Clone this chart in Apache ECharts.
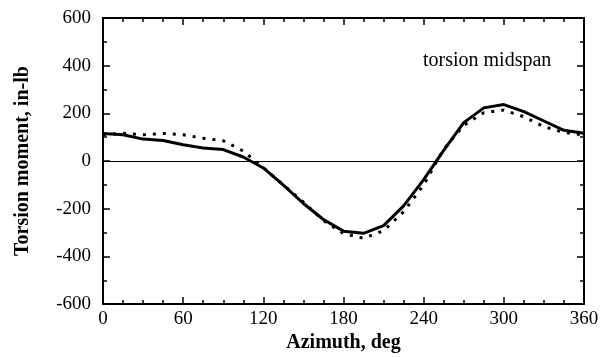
<!DOCTYPE html>
<html>
<head>
<meta charset="utf-8">
<script src="https://cdn.jsdelivr.net/npm/echarts@6/dist/echarts.min.js"></script>
<style>html,body{margin:0;padding:0;background:#fff;}#c{width:602px;height:358px;}</style>
</head>
<body>
<div id="c"></div>
<script>
var azimuth = [0,15,30,45,60,75,90,105,120,135,150,165,180,195,210,225,240,255,270,285,300,315,330,345,360];
var solidValues = [116,110,92,86,68,55,48,17,-29,-101,-178,-245,-294,-303,-271,-188,-78,45,161,223,237,207,168,129,117];
var dottedValues = [110,117,110,116,110,96,85,42,-28,-100,-172,-250,-304,-324,-292,-213,-100,50,150,203,214,186,144,120,109];
var xTicks = [0,60,120,180,240,300,360];
var yTicks = [-600,-400,-200,0,200,400,600];
var annotation = 'torsion midspan';
var xTitle = 'Azimuth, deg';
var yTitle = 'Torsion moment, in-lb';

function pairs(xs, ys){ return xs.map(function(x,i){ return [x, ys[i]]; }); }

var font = 'Liberation Serif';
var chart = echarts.init(document.getElementById('c'), null, {renderer:'canvas'});
var axisLine = {show:true, onZero:false, lineStyle:{color:'#000', width:2}};
var tickStyle = {color:'#000', width:1.5};
chart.setOption({
  animation:false,
  backgroundColor:'#fff',
  title:{text:annotation, left:418, top:46, textStyle:{fontFamily:font, fontWeight:'normal', fontSize:20, color:'#000'}},
  grid:{left:103, right:18, top:18, bottom:49, containLabel:false},
  xAxis:[
    {type:'value', min:xTicks[0], max:xTicks[xTicks.length-1], interval:60, position:'bottom',
     name:xTitle, nameLocation:'middle', nameGap:24,
     nameTextStyle:{fontFamily:font, fontWeight:'bold', fontSize:20, color:'#000'},
     axisLine:axisLine, axisTick:{inside:true, length:7, lineStyle:tickStyle},
     minorTick:{show:true, splitNumber:4, length:4, lineStyle:tickStyle},
     axisLabel:{margin:5, fontFamily:font, fontSize:19, color:'#000'},
     splitLine:{show:false}},
    {type:'value', min:xTicks[0], max:xTicks[xTicks.length-1], interval:60, position:'top',
     axisLine:axisLine, axisTick:{inside:true, length:7, lineStyle:tickStyle},
     minorTick:{show:true, splitNumber:4, length:4, lineStyle:tickStyle},
     axisLabel:{show:false}, splitLine:{show:false}}
  ],
  yAxis:[
    {type:'value', min:yTicks[0], max:yTicks[yTicks.length-1], interval:200, position:'left',
     name:yTitle, nameLocation:'middle', nameGap:70, nameRotate:90,
     nameTextStyle:{fontFamily:font, fontWeight:'bold', fontSize:20, color:'#000'},
     axisLine:axisLine, axisTick:{inside:true, length:7, lineStyle:tickStyle},
     minorTick:{show:true, splitNumber:2, length:4, lineStyle:tickStyle},
     axisLabel:{margin:12, fontFamily:font, fontSize:19, color:'#000'},
     splitLine:{show:false}},
    {type:'value', min:yTicks[0], max:yTicks[yTicks.length-1], interval:200, position:'right',
     axisLine:axisLine, axisTick:{inside:true, length:7, lineStyle:tickStyle},
     minorTick:{show:true, splitNumber:2, length:4, lineStyle:tickStyle},
     axisLabel:{show:false}, splitLine:{show:false}}
  ],
  series:[
    {type:'line', data:pairs(azimuth, solidValues), showSymbol:false, symbol:'none',
     lineStyle:{color:'#000', width:3}, z:3,
     markLine:{silent:true, symbol:'none', label:{show:false},
       lineStyle:{color:'#000', width:1, type:'solid'}, data:[{yAxis:0}]}},
    {type:'line', data:pairs(azimuth, dottedValues), showSymbol:false, symbol:'none',
     lineStyle:{color:'#000', width:3, type:[3,7], cap:'butt'}, z:2}
  ]
});
</script>
</body>
</html>
